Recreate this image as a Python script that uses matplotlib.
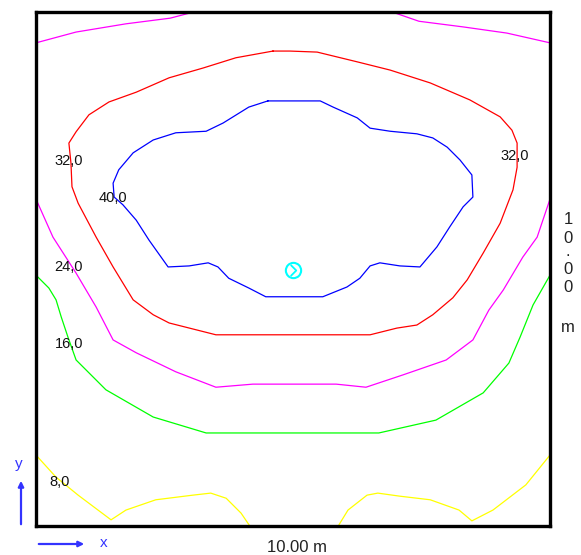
import matplotlib
matplotlib.use("Agg")
import matplotlib.pyplot as plt
from matplotlib.path import Path

plt.rcParams['font.family'] = ['Liberation Sans', 'DejaVu Sans']

# Room size (m)
room_w = 10.0
room_h = 10.0

# Isolines (x, y in metres)
mag_top_left_x = [0.00, 0.78, 1.75, 2.61, 3.07]
mag_top_left_y = [9.40, 9.61, 9.77, 9.88, 10.00]
mag_top_right_x = [6.93, 7.45, 8.31, 9.16, 10.00]
mag_top_right_y = [10.00, 9.82, 9.71, 9.59, 9.40]

red_x = [4.61, 4.94, 5.47, 6.25, 6.89, 7.67, 8.44, 9.03, 9.26, 9.36, 9.36, 9.28, 9.03,
         8.70, 8.39, 8.11, 7.72, 7.41, 7.02, 6.50, 3.50, 2.59, 2.28, 1.89, 1.50, 1.17,
         0.82, 0.70, 0.68, 0.64, 0.78, 1.03, 1.42, 1.95, 2.59, 3.25, 3.89, 4.61]
red_y = [9.24, 9.24, 9.22, 9.03, 8.87, 8.62, 8.29, 7.96, 7.70, 7.45, 6.98, 6.54, 5.89,
         5.31, 4.79, 4.44, 4.11, 3.91, 3.85, 3.72, 3.72, 3.95, 4.11, 4.40, 5.04, 5.62,
         6.28, 6.60, 7.06, 7.45, 7.67, 8.00, 8.25, 8.44, 8.72, 8.91, 9.11, 9.24]

blue_x = [4.51, 5.53, 5.78, 6.25, 6.50, 6.89, 7.41, 7.72, 8.00, 8.25, 8.48, 8.50, 8.31,
          8.05, 7.80, 7.47, 7.08, 6.69, 6.50, 6.30, 6.05, 5.58, 4.47, 4.14, 3.75, 3.54,
          3.35, 2.98, 2.57, 2.20, 1.95, 1.69, 1.52, 1.50, 1.61, 1.89, 2.28, 2.72, 3.31,
          3.64, 4.14, 4.51]
blue_y = [8.27, 8.27, 8.15, 7.94, 7.74, 7.68, 7.63, 7.55, 7.37, 7.12, 6.83, 6.40, 6.21,
          5.82, 5.43, 5.04, 5.06, 5.12, 5.06, 4.82, 4.65, 4.46, 4.46, 4.63, 4.82, 5.04,
          5.12, 5.06, 5.04, 5.56, 5.95, 6.25, 6.40, 6.67, 6.93, 7.26, 7.51, 7.65, 7.68,
          7.84, 8.15, 8.27]

mag_mid_x = [0.00, 0.33, 0.78, 1.17, 1.50, 1.95, 2.72, 3.50, 4.22, 5.84, 6.42, 7.14,
             7.98, 8.50, 8.81, 9.09, 9.47, 9.75, 10.00]
mag_mid_y = [6.36, 5.62, 4.92, 4.26, 3.62, 3.37, 3.00, 2.70, 2.76, 2.76, 2.70, 2.94,
             3.23, 3.62, 4.20, 4.59, 5.23, 5.62, 6.36]

green_x = [0.00, 0.25, 0.39, 0.49, 0.62, 0.78, 1.36, 2.28, 3.31, 6.67, 7.78, 8.70,
           9.20, 9.42, 9.67, 10.00]
green_y = [4.88, 4.63, 4.40, 4.07, 3.68, 3.23, 2.65, 2.12, 1.81, 1.81, 2.06, 2.59,
           3.17, 3.68, 4.30, 4.88]

yel_left_x = [0.00, 0.39, 0.82, 1.46, 1.75, 2.33, 3.05, 3.40, 3.70, 3.99, 4.16]
yel_left_y = [1.38, 0.95, 0.60, 0.12, 0.31, 0.51, 0.60, 0.64, 0.54, 0.25, 0.00]
yel_right_x = [5.88, 6.07, 6.44, 6.65, 7.08, 7.67, 8.23, 8.48, 8.89, 9.53, 10.00]
yel_right_y = [0.00, 0.31, 0.60, 0.64, 0.58, 0.51, 0.31, 0.10, 0.31, 0.80, 1.38]

# Isoline labels
label_text = ["32,0", "32,0", "40,0", "24,0", "16,0", "8,0"]
label_x = [0.64, 9.32, 1.50, 0.64, 0.64, 0.45]
label_y = [7.10, 7.20, 6.38, 5.04, 3.54, 0.86]

# Luminaire
lum_x = [5.0]
lum_y = [4.98]

W, H = 581, 555
fig = plt.figure(figsize=(W / 100, H / 100), dpi=100)
ax = fig.add_axes([36 / W, 1 - 526 / H, 514 / W, 514 / H])
ax.set_xlim(0, room_w)
ax.set_ylim(0, room_h)
ax.set_xticks([])
ax.set_yticks([])
for s in ax.spines.values():
    s.set_linewidth(2.4)
    s.set_color('black')

lw = 0.9
ax.plot(mag_top_left_x, mag_top_left_y, color='#ff00ff', lw=lw)
ax.plot(mag_top_right_x, mag_top_right_y, color='#ff00ff', lw=lw)
ax.plot(red_x, red_y, color='#ff0000', lw=lw)
ax.plot(blue_x, blue_y, color='#0000ff', lw=lw)
ax.plot(mag_mid_x, mag_mid_y, color='#ff00ff', lw=lw)
ax.plot(green_x, green_y, color='#00ff00', lw=lw)
ax.plot(yel_left_x, yel_left_y, color='#ffff00', lw=lw)
ax.plot(yel_right_x, yel_right_y, color='#ffff00', lw=lw)

for t, x, y in zip(label_text, label_x, label_y):
    ax.text(x, y, t, fontsize=10.5, color='#111111', ha='center', va='center')

# luminaire symbol
chev = Path([(-0.25, 0.5), (0.25, 0.0), (-0.25, -0.5)],
            [Path.MOVETO, Path.LINETO, Path.LINETO])
ax.plot(lum_x, lum_y, marker='o', ms=11, mfc='none', mec='#00ffff', mew=1.5, ls='none')
ax.plot(lum_x, lum_y, marker=chev, ms=8, mfc='none', mec='#00ffff', mew=1.3, ls='none')

# axis arrows
arrow_col = '#3333ff'
fig.patches.append(matplotlib.patches.FancyArrowPatch(
    (21, 555 - 527), (21, 555 - 478), transform=None, arrowstyle='-|>',
    mutation_scale=8, color=arrow_col, lw=1.6))
fig.patches.append(matplotlib.patches.FancyArrowPatch(
    (36, 555 - 544), (87, 555 - 544), transform=None, arrowstyle='-|>',
    mutation_scale=8, color=arrow_col, lw=1.6))
fig.text(19 / W, 1 - 464 / H, 'y', color=arrow_col, fontsize=11, ha='center', va='center')
fig.text(104 / W, 1 - 543 / H, 'x', color=arrow_col, fontsize=11, ha='center', va='center')

fig.text(297 / W, 1 - 547 / H, '10.00 m', fontsize=12, ha='center', va='center', color='#222222')

vchars = ['1', '0', '.', '0', '0', 'm']
vys = [220, 238, 252, 270, 288, 327]
for c, yy in zip(vchars, vys):
    fig.text(568 / W, 1 - yy / H, c, fontsize=12, ha='center', va='center', color='#222222')

fig.savefig('out.png', dpi=100)
